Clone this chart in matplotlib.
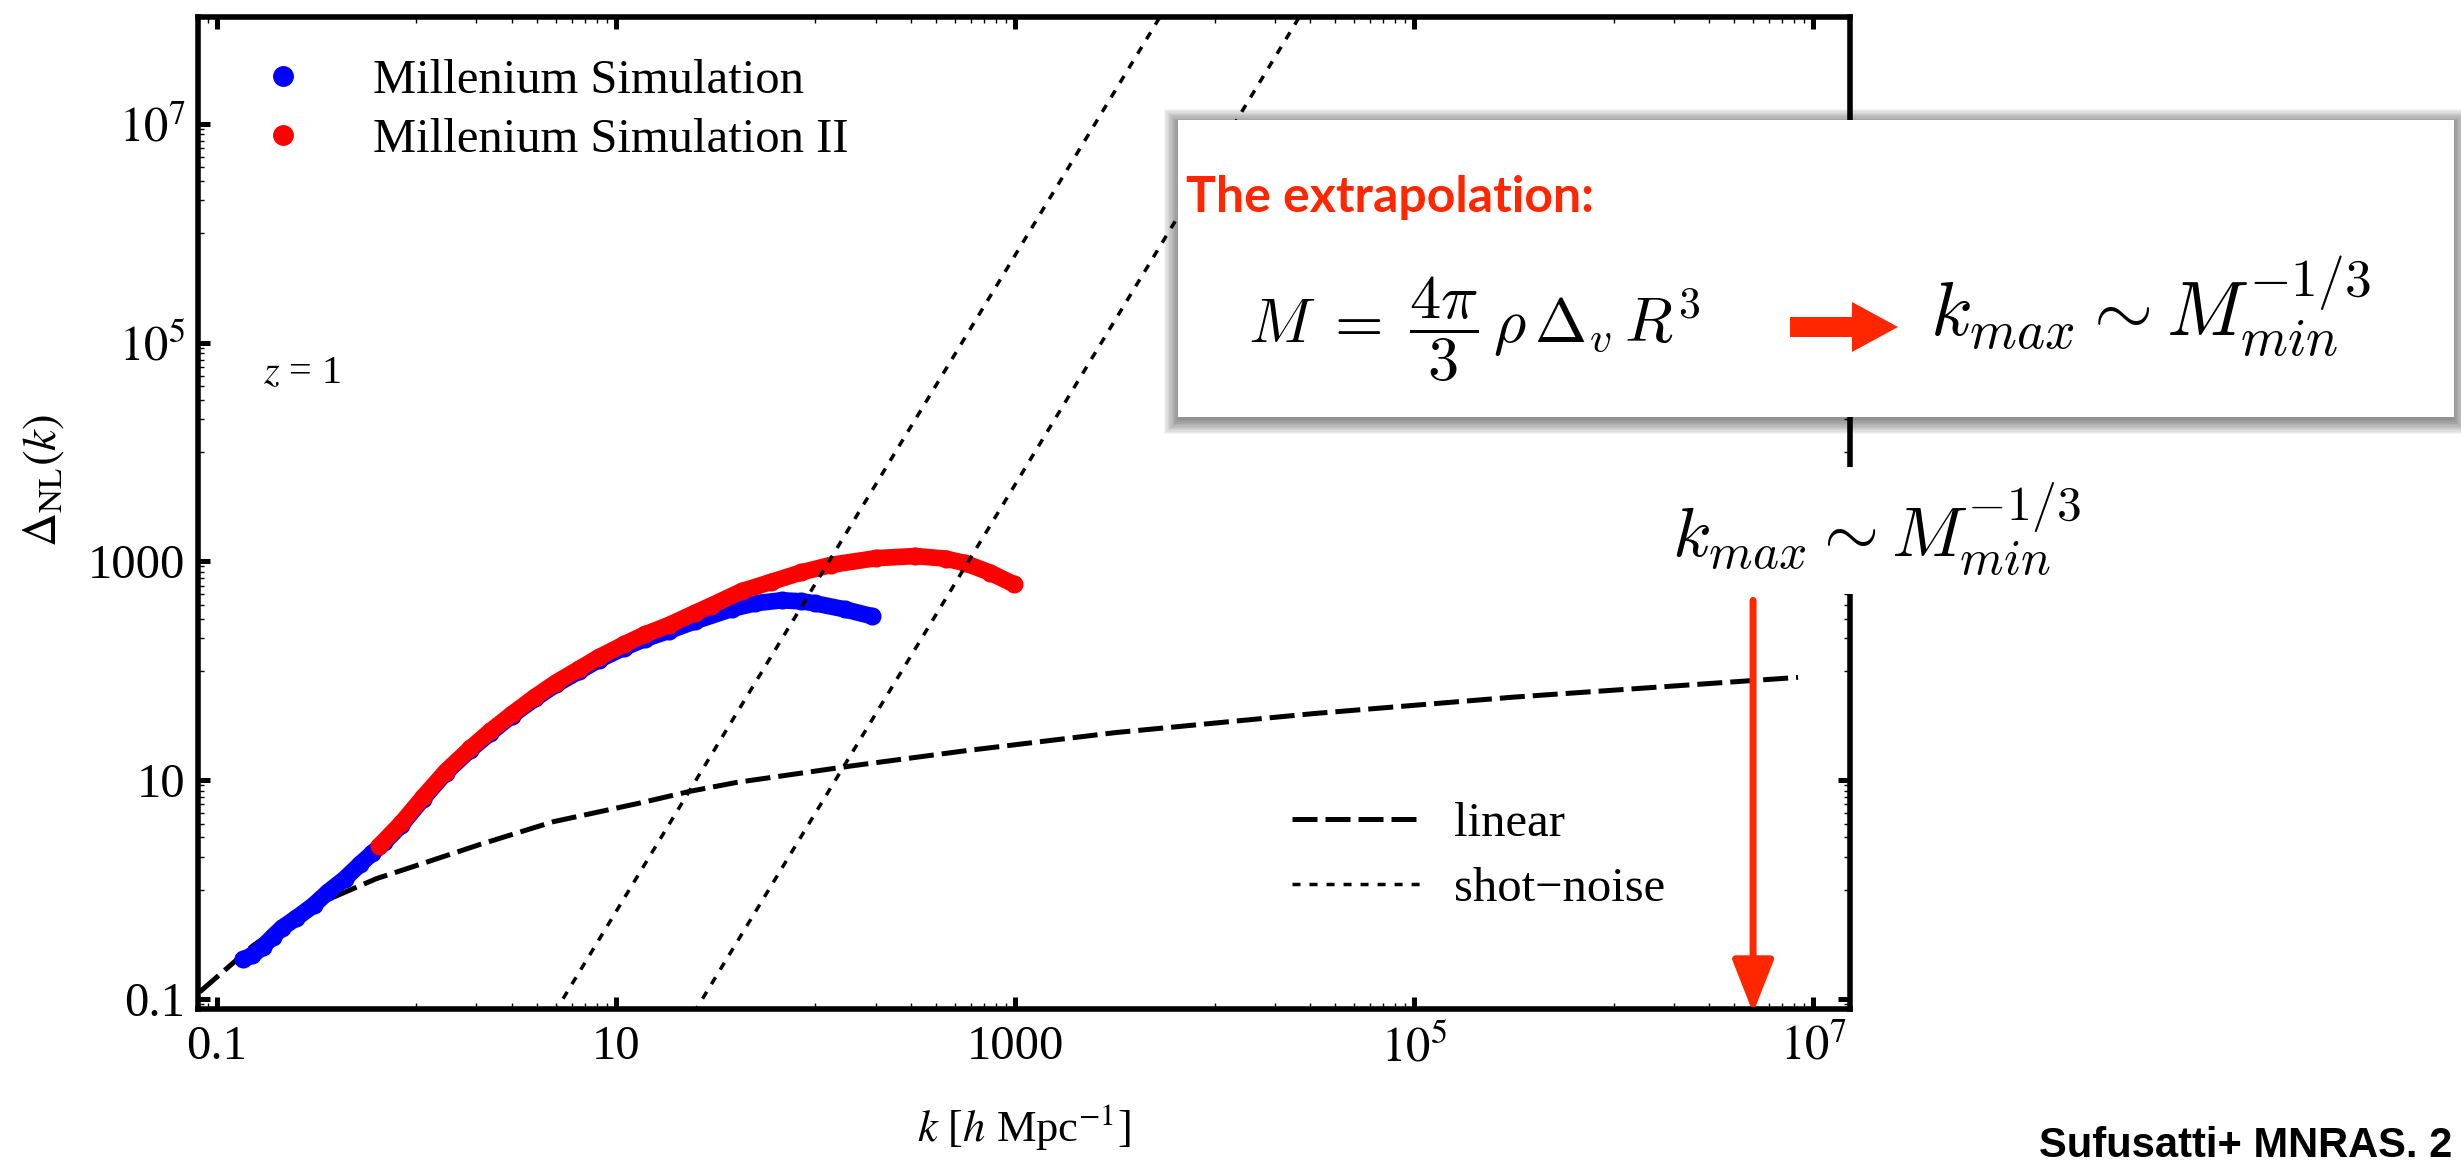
import matplotlib.pyplot as plt
from matplotlib.lines import Line2D
from matplotlib.patches import Rectangle, Polygon
from matplotlib.ticker import FixedLocator, NullFormatter

plt.rcParams['font.family'] = 'serif'
plt.rcParams['font.serif'] = ['Liberation Serif', 'DejaVu Serif']
plt.rcParams['mathtext.fontset'] = 'stix'

# Millennium Simulation
ms_k = [0.135, 0.15, 0.17, 0.19, 0.213, 0.25, 0.305, 0.36, 0.436, 0.52, 0.60,
        0.69, 0.84, 1.08, 1.4, 1.86, 2.34, 3.0, 3.94, 5.0, 6.53, 8.2, 11.0,
        14.0, 18.4, 25.0, 38.0, 50.0, 67.6, 85.0, 100.0, 140.0, 193.0]
ms_delta = [0.23, 0.25, 0.30, 0.37, 0.45, 0.55, 0.72, 0.95, 1.25, 1.7, 2.15,
            2.7, 3.9, 6.8, 11.7, 19.0, 27.0, 39.0, 56.0, 75.0, 99.0, 126.0,
            163.0, 196.0, 232.0, 285.0, 368.0, 415.0, 441.0, 432.0, 413.0,
            365.0, 315.0]

# Millennium Simulation II
ms2_k = [0.65, 0.84, 1.08, 1.4, 1.86, 2.34, 3.0, 3.94, 5.0, 6.53, 8.2, 11.0,
         14.0, 18.4, 25.0, 30.0, 42.7, 60.0, 85.0, 120.0, 200.0, 316.0, 450.0,
         562.0, 750.0, 990.0]
ms2_delta = [2.5, 4.05, 7.0, 12.0, 19.5, 28.0, 40.0, 58.0, 78.0, 104.0, 133.0,
             175.0, 216.0, 262.0, 340.0, 395.0, 535.0, 650.0, 795.0, 930.0,
             1070.0, 1120.0, 1060.0, 965.0, 790.0, 617.0]

# linear theory
lin_k = [0.082, 0.151, 0.251, 0.394, 0.631, 1.0, 2.06, 4.84, 13.1, 23.7, 40.3,
         151.0, 566.0, 3162.0, 31620.0, 316200.0, 8.4e6]
lin_delta = [0.116, 0.305, 0.589, 0.871, 1.26, 1.66, 2.57, 4.17, 6.17, 7.94,
             9.55, 13.5, 18.6, 27.2, 40.7, 57.5, 87.1]

# shot noise of the two boxes
shot_ms_k = [4.0, 6000.0]
shot_ms_delta = [0.0402, 1.356e8]
shot_ms2_k = [20.0, 30000.0]
shot_ms2_delta = [0.0402, 1.358e8]

k_max_arrow = 5.0e6

tick_vals = [0.1, 10, 1000, 1e5, 1e7]
tick_labels = ['0.1', '10', '1000', '$10^5$', '$10^7$']

W, H = 2461, 1166
RED = '#FF2600'


def fx(px):
    return px / W


def fy(py):
    return 1 - py / H


fig = plt.figure(figsize=(W / 100, H / 100), dpi=100)
ax = fig.add_axes([fx(198), fy(1009), (1850 - 198) / W, (1009 - 17) / H])
ax.set_xscale('log')
ax.set_yscale('log')

lin_line, = ax.plot(lin_k, lin_delta, color='k', lw=3.6, dashes=(5, 1.6), zorder=2)
shot_line, = ax.plot(shot_ms_k, shot_ms_delta, color='k', lw=2.5,
                     dashes=(2.3, 2.6), zorder=4)
ax.plot(shot_ms2_k, shot_ms2_delta, color='k', lw=2.5, dashes=(2.3, 2.6), zorder=4)
ax.plot(ms_k, ms_delta, '-o', color='blue', lw=12, ms=12,
        solid_capstyle='round', solid_joinstyle='round', zorder=3)
ax.plot(ms2_k, ms2_delta, '-o', color='red', lw=12, ms=12,
        solid_capstyle='round', solid_joinstyle='round', zorder=3)

ax.set_xlim(0.0804, 1.53e7)
ax.set_ylim(0.081, 9.48e7)

minor_vals = [t / 10 * m for t in tick_vals for m in range(1, 10)]
for axis in (ax.xaxis, ax.yaxis):
    axis.set_major_locator(FixedLocator(tick_vals))
    axis.set_minor_locator(FixedLocator(minor_vals))
    axis.set_minor_formatter(NullFormatter())
ax.set_xticklabels(tick_labels)
ax.set_yticklabels(tick_labels)

ax.tick_params(which='both', direction='in', top=True, right=True, labelsize=35)
ax.tick_params(which='major', length=8.5, width=3.6)
ax.tick_params(axis='x', which='major', pad=11.5)
ax.tick_params(axis='y', which='major', pad=9)
ax.tick_params(which='minor', length=4, width=1.0)
for s in ax.spines.values():
    s.set_linewidth(4)

ax.set_xlabel(r'$k$ [$h$ Mpc$^{-1}$]', fontsize=32)
ax.xaxis.set_label_coords(0.5, -0.094)
ax.set_ylabel(r'$\Delta_{\rm NL}(k)$', fontsize=34)
ax.yaxis.set_label_coords(-0.080, 0.533)

ax.text(0.0393, 0.631, '$z$ = 1', transform=ax.transAxes, fontsize=29,
        va='baseline')

# legends
sim_handles = [Line2D([], [], ls='none', marker='o', ms=14, color='blue'),
               Line2D([], [], ls='none', marker='o', ms=14, color='red')]
leg1 = ax.legend(sim_handles, ['Millenium Simulation', 'Millenium Simulation II'],
                 loc='upper left', bbox_to_anchor=(0.0367, 0.9576),
                 frameon=False, fontsize=35, handlelength=1.0,
                 handletextpad=1.35, borderpad=0, borderaxespad=0,
                 labelspacing=0.3)
ax.legend([lin_line, shot_line], ['linear', 'shot\u2212noise'],
          loc='upper left', bbox_to_anchor=(0.6622, 0.209), frameon=False,
          fontsize=35, handlelength=2.65, handletextpad=0.68, borderpad=0,
          borderaxespad=0, labelspacing=0.43)
ax.add_artist(leg1)

# k_max arrow down to the axis
ax.annotate('', xy=(k_max_arrow, 0.0745), xytext=(k_max_arrow, 440),
            arrowprops=dict(arrowstyle='-|>,head_length=1.4,head_width=0.55',
                            mutation_scale=23, color=RED, lw=5,
                            shrinkA=0, shrinkB=0),
            annotation_clip=False, zorder=5)

fig.text(fx(1672), fy(557), r'$k_{max} \sim M_{min}^{-1/3}$', fontsize=51,
         math_fontfamily='cm', va='baseline', zorder=6,
         bbox=dict(fc='white', ec='none', pad=10))

# boxed explanation with a soft shadow
bx0, by0, bx1, by1 = 1178, 120, 2454, 417
for i in range(12):
    e = 1.3 * i
    fig.add_artist(Rectangle((fx(bx0 - e), fy(by1 + 3 + e)),
                             (bx1 - bx0 + 2 * e) / W, (by1 - by0 + 2 * e) / H,
                             transform=fig.transFigure, fc='k', ec='none',
                             alpha=0.045, zorder=7))
fig.add_artist(Rectangle((fx(bx0), fy(by1)), (bx1 - bx0) / W, (by1 - by0) / H,
                         transform=fig.transFigure, fc='white', ec='none',
                         zorder=8))
fig.text(fx(1186), fy(212), 'The extrapolation:', color=RED, fontsize=36,
         fontweight='bold', family=['Lato', 'DejaVu Sans'], va='baseline',
         zorder=9)
fig.text(fx(1248), fy(343),
         r'$M \;=\; \dfrac{4\pi}{3}\,\rho\,\Delta_v\,R^3$',
         fontsize=45, math_fontfamily='cm', va='baseline', zorder=9)
arrow_px = [(1790, 317), (1852, 317), (1852, 302), (1898, 327), (1852, 352),
            (1852, 337), (1790, 337)]
fig.add_artist(Polygon([(fx(x), fy(y)) for x, y in arrow_px], closed=True,
                       transform=fig.transFigure, fc=RED, ec='none', zorder=9))
fig.text(fx(1930), fy(337), r'$k_{max} \sim M_{min}^{-1/3}$', fontsize=55,
         math_fontfamily='cm', va='baseline', zorder=9)

fig.text(fx(2039), fy(1157), 'Sufusatti+ MNRAS. 2', fontsize=30,
         fontweight='bold', family=['Liberation Sans', 'DejaVu Sans'],
         va='baseline')

fig.savefig('out.png', dpi=100)
